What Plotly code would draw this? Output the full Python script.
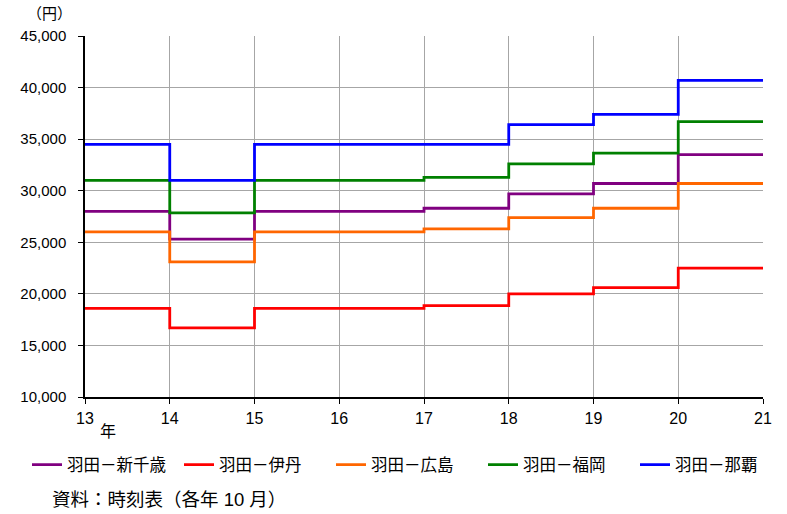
import plotly.graph_objects as go

years = [13, 14, 15, 17, 18, 19, 20, 21]
series_names = ["羽田－新千歳", "羽田－伊丹", "羽田－広島", "羽田－福岡", "羽田－那覇"]
shin_chitose = [28000, 25300, 28000, 28300, 29700, 30700, 33500, 33500]
itami = [18600, 16700, 18600, 18850, 20000, 20600, 22500, 22500]
hiroshima = [26000, 23100, 26000, 26300, 27400, 28300, 30700, 30700]
fukuoka = [31000, 27850, 31000, 31300, 32600, 33650, 36700, 36700]
naha = [34500, 31000, 34500, 34500, 36400, 37400, 40700, 40700]
colors = ["#800080", "#ff0000", "#ff6600", "#008000", "#0000ff"]
x_ticks = [13, 14, 15, 16, 17, 18, 19, 20, 21]
y_ticks = [10000, 15000, 20000, 25000, 30000, 35000, 40000, 45000]

font_family = "Liberation Sans, Arial, Noto Sans CJK JP, sans-serif"

fig = go.Figure()
for name, vals, c in zip(series_names, [shin_chitose, itami, hiroshima, fukuoka, naha], colors):
    fig.add_trace(go.Scatter(x=years, y=vals, name=name, mode="lines",
                             line=dict(color=c, width=2.8, shape="hv")))

fig.update_layout(
    width=787, height=514,
    margin=dict(l=85, r=24, t=36, b=117),
    paper_bgcolor="white", plot_bgcolor="white",
    font=dict(family=font_family, size=15, color="black"),
    showlegend=True,
    legend=dict(orientation="h", x=-0.058, xanchor="left", y=-0.188, yanchor="middle",
                font=dict(size=16.5), tracegroupgap=0,
                entrywidth=107, entrywidthmode="pixels"),
)
fig.update_xaxes(range=[13, 21], tickvals=x_ticks, ticktext=[str(t) for t in x_ticks],
                 showgrid=True, gridcolor="#a6a6a6", gridwidth=1,
                 showline=True, linecolor="black", linewidth=1.5,
                 ticks="outside", ticklen=5, tickcolor="black",
                 ticklabelstandoff=1,
                 zeroline=False, tickfont=dict(size=16))
fig.update_yaxes(range=[10000, 45000], tickvals=y_ticks, tickformat=",",
                 showgrid=True, gridcolor="#a6a6a6", gridwidth=1,
                 showline=True, linecolor="black", linewidth=1.5,
                 ticks="outside", ticklen=5, tickcolor="black",
                 ticklabelstandoff=9,
                 zeroline=False, tickfont=dict(size=15))

fig.add_annotation(text="（円）", xref="paper", yref="paper", x=-0.052, y=1.064,
                   xanchor="center", yanchor="middle", showarrow=False,
                   font=dict(size=15, family="Noto Sans CJK JP"))
fig.add_annotation(text="年", xref="paper", yref="paper", x=0.034, y=-0.095,
                   xanchor="center", yanchor="middle", showarrow=False, font=dict(size=16))
fig.add_annotation(text="資料：時刻表（各年 10 月）", xref="paper", yref="paper", x=-0.0516, y=-0.285,
                   xanchor="left", yanchor="middle", showarrow=False, font=dict(size=18.5))

fig.write_html("out.html")
